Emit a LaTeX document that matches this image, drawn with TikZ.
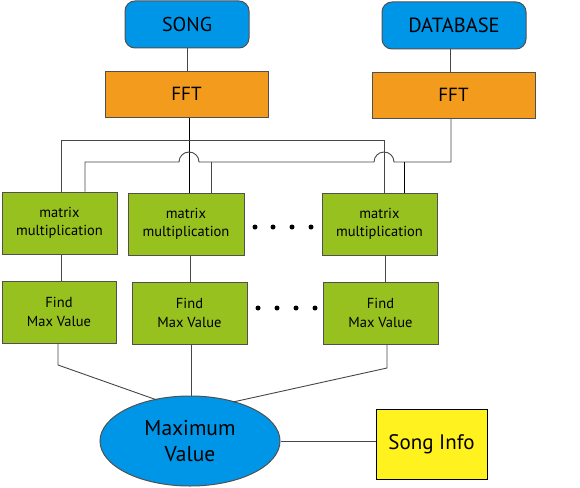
\documentclass[tikz,border=0pt]{standalone}
\usepackage{fontspec}
\setmainfont{PT Sans}
\usetikzlibrary{shapes.geometric,calc}
\definecolor{cblue}{RGB}{0,150,232}
\definecolor{corange}{RGB}{242,155,28}
\definecolor{cgreen}{RGB}{150,193,31}
\definecolor{cyellow}{RGB}{255,242,30}
\definecolor{cborder}{RGB}{80,80,80}
\definecolor{cline}{RGB}{70,70,70}
\tikzset{
  src/.style={draw=cborder, line width=1pt, fill=cblue, rounded corners=10pt, inner sep=0pt, font=\fontsize{20}{22}\selectfont},
  fftbox/.style={draw=cborder, line width=1pt, fill=corange, inner sep=0pt, minimum width=163pt, minimum height=46pt, font=\fontsize{19}{22}\selectfont},
  gbox/.style={draw=cborder, line width=1pt, fill=cgreen, inner sep=0pt, minimum height=62pt, align=center, font=\fontsize{14.5}{18.5}\selectfont},
  conn/.style={draw=cline, line width=0.9pt},
  dot/.style={circle, fill=black, inner sep=0pt, minimum size=5pt},
}
\begin{document}
\begin{tikzpicture}[x=1pt,y=-1pt]
\useasboundingbox (0,0) rectangle (580,487);
% source boxes
\node[src, minimum width=124pt, minimum height=47pt] (song) at (187,24.5) {SONG};
\node[src, minimum width=144pt, minimum height=47pt, font=\fontsize{20.5}{22}\selectfont] (db) at (454,25.5) {DATABASE};
\node[fftbox] (fft1) at (186.5,94) {FFT};
\node[fftbox] (fft2) at (453.5,95) {FFT};
% matrix boxes
\node[gbox, minimum width=115pt] (m1) at (59.5,223) {matrix\\multiplication};
\node[gbox, minimum width=116pt] (m2) at (186,224) {matrix\\multiplication};
\node[gbox, minimum width=115pt] (m3) at (379.5,224) {matrix\\multiplication};
% find boxes
\node[gbox, minimum width=114pt] (f1) at (59,312) {Find\\Max Value};
\node[gbox, minimum width=115pt] (f2) at (189.5,313) {Find\\Max Value};
\node[gbox, minimum width=115pt] (f3) at (380.5,313) {Find\\Max Value};
% max value and song info
\node[ellipse, draw=cborder, line width=1pt, fill=cblue, minimum width=180pt, minimum height=90pt, inner sep=0pt, align=center, font=\fontsize{21.5}{26}\selectfont] (mx) at (190,441) {Maximum\\Value};
\node[draw=black, line width=1pt, fill=cyellow, minimum width=111pt, minimum height=70pt, inner sep=0pt, font=\fontsize{21}{24}\selectfont] (info) at (431.5,444) {Song Info};
% dots
\foreach \x [count=\i] in {255,273,292,311} \node[dot] (da\i) at (\x,227) {};
\foreach \x [count=\i] in {258,277,296,315} \node[dot] (db\i) at (\x,308) {};
% connectors top
\draw[conn] (song.south) -- (song.south |- fft1.north);
\draw[conn] ([xshift=-4pt]db.south) -- ([xshift=-4pt]db.south |- fft2.north);
% FFT1 distribution
\coordinate (a1) at (61,140);
\coordinate (a3) at (384,140);
\draw[conn, draw=black] ([xshift=2.5pt]fft1.south) -- ([xshift=2.5pt]fft1.south |- m2.north);
\draw[conn] (a1 |- m1.north) -- (a1) -- (a3) -- (a3 |- m3.north);
% FFT2 distribution with hops
\coordinate (b0) at (451,162);
\coordinate (b1) at (85,162);
\coordinate (b2) at (211,162);
\coordinate (b3) at (404,162);
\draw[conn] ([xshift=-2.5pt]fft2.south) -- (b0) -- (394,162) arc (0:-180:10) -- (199,162) arc (0:-180:10) -- (b1) -- (b1 |- m1.north);
\draw[conn] (b2) -- (b2 |- m2.north);
\draw[conn, draw=black] (b3) -- (b3 |- m3.north);
% matrix to find
\draw[conn] ([xshift=1.5pt]m1.south) -- ([xshift=1.5pt]m1.south |- f1.north);
\draw[conn] ([xshift=4pt]m2.south) -- ([xshift=4pt]m2.south |- f2.north);
\draw[conn] ([xshift=5.5pt]m3.south) -- ([xshift=5.5pt]m3.south |- f3.north);
% find to max
\coordinate (c1) at (58,365);
\coordinate (c3) at (387,368);
\draw[conn] (c1 |- f1.south) -- (c1) -- (157,400);
\draw[conn] ([xshift=1.5pt]f2.south) -- ([xshift=1.5pt]f2.south |- mx.north);
\draw[conn] (c3 |- f3.south) -- (c3) -- (233,402);
\draw[conn] (mx.east) -- (mx.east -| info.west);
\end{tikzpicture}
\end{document}
